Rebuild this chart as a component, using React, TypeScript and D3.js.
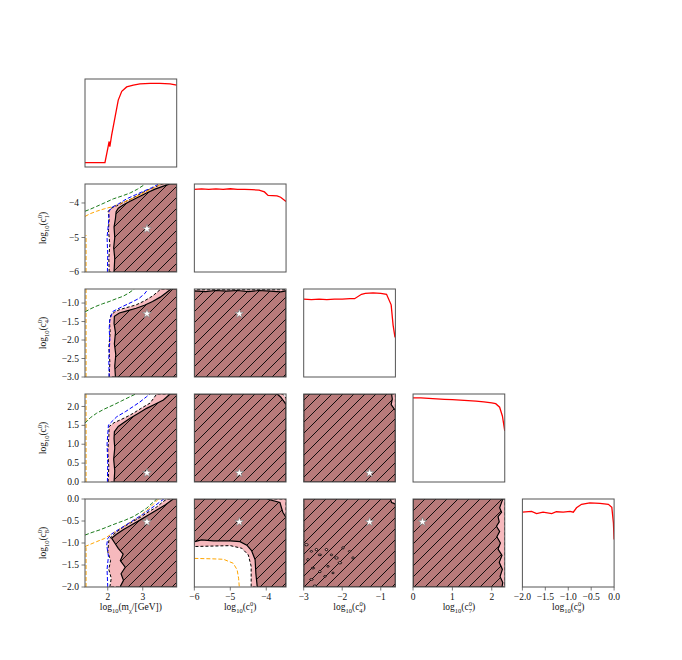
import React, { useEffect, useRef } from "react";
import * as d3 from "d3";

type Pt = [number, number];

// parameter axes (m, c1, c4, c7, c8)
const paramDomains: Pt[] = [[1.35, 3.97], [-6, -3.45], [-3, -0.62], [0, 2.33], [-2, 0]];
const xTickValues = [[2, 3], [-6, -5, -4], [-3, -2, -1], [0, 1, 2], [-2, -1.5, -1, -0.5, 0]];
const yTickValues = [[], [-6, -5, -4], [-3, -2.5, -2, -1.5, -1], [0, 0.5, 1, 1.5, 2], [-2, -1.5, -1, -0.5, 0]];
const tickDecimals = [0, 0, 0, 0, 1];
const yTickDecimals = [0, 0, 1, 1, 1];
const bestFit = [3.12, -4.75, -1.29, 0.24, -0.52];

// 1D profile likelihoods
const profM: Pt[] = [[1.35, 0.05], [1.64, 0.05], [1.92, 0.05], [2.0, 0.21], [2.04, 0.29], [2.06, 0.23], [2.11, 0.36], [2.21, 0.57], [2.3, 0.76], [2.4, 0.86], [2.54, 0.91], [2.73, 0.93], [2.92, 0.945], [3.21, 0.95], [3.49, 0.95], [3.78, 0.945], [3.97, 0.93]];
const profC1: Pt[] = [[-6, 0.94], [-5.8, 0.945], [-5.6, 0.938], [-5.4, 0.945], [-5.2, 0.94], [-5.0, 0.946], [-4.8, 0.94], [-4.6, 0.94], [-4.4, 0.935], [-4.2, 0.93], [-4.05, 0.91], [-3.95, 0.87], [-3.7, 0.865], [-3.6, 0.85], [-3.45, 0.8]];
const profC4: Pt[] = [[-3, 0.885], [-2.8, 0.88], [-2.6, 0.886], [-2.4, 0.88], [-2.2, 0.885], [-2.0, 0.885], [-1.8, 0.89], [-1.68, 0.89], [-1.5, 0.94], [-1.4, 0.95], [-1.2, 0.955], [-1.0, 0.95], [-0.85, 0.94], [-0.73, 0.82], [-0.68, 0.59], [-0.63, 0.45]];
const profC7: Pt[] = [[0, 0.955], [0.2, 0.955], [0.4, 0.95], [0.6, 0.945], [0.8, 0.94], [1.0, 0.935], [1.2, 0.93], [1.4, 0.925], [1.6, 0.92], [1.8, 0.91], [2.0, 0.9], [2.1, 0.89], [2.2, 0.85], [2.27, 0.75], [2.33, 0.58]];
const profC8: Pt[] = [[-2, 0.85], [-1.8, 0.86], [-1.69, 0.835], [-1.55, 0.85], [-1.36, 0.835], [-1.26, 0.855], [-1.11, 0.85], [-0.96, 0.86], [-0.89, 0.85], [-0.82, 0.9], [-0.71, 0.94], [-0.53, 0.955], [-0.31, 0.95], [-0.125, 0.94], [-0.05, 0.905], [-0.015, 0.73], [0, 0.54]];

// m vs c1
const mC1Inner: Pt[] = [[2.18, -6], [2.2, -5.6], [2.17, -5.3], [2.2, -5.0], [2.18, -4.7], [2.22, -4.45], [2.24, -4.25], [2.3, -4.15], [2.45, -4.05], [2.64, -3.95], [2.85, -3.84], [3.11, -3.71], [3.35, -3.6], [3.59, -3.51], [3.78, -3.45], [3.97, -3.45], [3.97, -6]];
const mC1Outer: Pt[] = [[2.04, -6], [2.03, -5.6], [2.06, -5.2], [2.02, -4.8], [2.04, -4.45], [2.01, -4.24], [2.1, -4.15], [2.26, -4.08], [2.45, -3.98], [2.64, -3.9], [2.88, -3.76], [3.11, -3.64], [3.35, -3.54], [3.55, -3.45], [3.97, -3.45], [3.97, -6]];
const mC1Blue: Pt[] = [[1.99, -6], [2.0, -5.5], [1.98, -5.0], [2.02, -4.6], [2.04, -4.24], [2.11, -4.13], [2.3, -4.03], [2.54, -3.88], [2.8, -3.76], [3.02, -3.66], [3.25, -3.56], [3.44, -3.46]];
const mC1Green: Pt[] = [[1.35, -4.24], [1.5, -4.18], [1.68, -4.1], [1.9, -4.0], [2.16, -3.88], [2.4, -3.8], [2.64, -3.71], [2.85, -3.6], [3.06, -3.46]];
const mC1Orange: Pt[] = [[1.35, -4.39], [1.5, -4.31], [1.68, -4.24], [1.9, -4.17], [2.16, -4.1], [2.4, -4.0], [2.64, -3.9], [3.0, -3.72], [3.4, -3.51], [3.6, -3.43]];
const mC1OrangeEdge: Pt[] = [[1.38, -6], [1.38, -4.93]];

// m vs c4
const mC4Inner: Pt[] = [[2.22, -3], [2.2, -2.7], [2.23, -2.4], [2.19, -2.1], [2.22, -1.8], [2.18, -1.55], [2.19, -1.36], [2.33, -1.27], [2.55, -1.21], [2.81, -1.14], [3.05, -1.06], [3.28, -0.96], [3.5, -0.84], [3.66, -0.73], [3.81, -0.62], [3.97, -0.62], [3.97, -3]];
const mC4Outer: Pt[] = [[2.04, -3], [2.06, -2.6], [2.03, -2.2], [2.07, -1.8], [2.05, -1.5], [2.09, -1.32], [2.2, -1.24], [2.33, -1.18], [2.55, -1.12], [2.81, -1.05], [3.05, -0.94], [3.28, -0.81], [3.52, -0.62], [3.97, -0.62], [3.97, -3]];
const mC4Blue: Pt[] = [[2.04, -3], [2.03, -2.5], [2.06, -2.0], [2.04, -1.7], [2.06, -1.45], [2.14, -1.23], [2.43, -1.09], [2.7, -0.97], [2.9, -0.87], [3.05, -0.75], [3.14, -0.64]];
const mC4Green: Pt[] = [[1.35, -1.24], [1.5, -1.16], [1.66, -1.09], [1.85, -1.02], [2.04, -0.96], [2.25, -0.88], [2.43, -0.82], [2.6, -0.73], [2.76, -0.62]];
const mC4OrangeEdge: Pt[] = [[1.38, -3], [1.38, -0.62]];

// m vs c7
const mC7Inner: Pt[] = [[2.18, 0], [2.2, 0.3], [2.17, 0.6], [2.2, 0.9], [2.18, 1.15], [2.19, 1.33], [2.3, 1.47], [2.45, 1.57], [2.64, 1.69], [2.88, 1.82], [3.11, 1.95], [3.35, 2.06], [3.59, 2.17], [3.78, 2.33], [3.97, 2.33], [3.97, 0]];
const mC7Outer: Pt[] = [[2.01, 0], [2.03, 0.4], [2.0, 0.8], [2.03, 1.2], [2.04, 1.47], [2.18, 1.57], [2.35, 1.64], [2.55, 1.73], [2.73, 1.82], [2.97, 1.96], [3.21, 2.09], [3.4, 2.33], [3.97, 2.33], [3.97, 0]];
const mC7Blue: Pt[] = [[1.99, 0], [2.0, 0.5], [1.98, 1.0], [2.02, 1.51], [2.26, 1.73], [2.5, 1.86], [2.73, 2.0], [2.92, 2.12], [3.11, 2.26], [3.2, 2.33]];
const mC7Green: Pt[] = [[1.35, 1.56], [1.5, 1.7], [1.68, 1.82], [1.9, 1.93], [2.16, 2.04], [2.4, 2.15], [2.64, 2.26], [2.8, 2.33]];
const mC7OrangeEdge: Pt[] = [[1.38, 0], [1.38, 2.33]];

// m vs c8
const mC8Inner: Pt[] = [[2.35, -2], [2.45, -1.85], [2.38, -1.7], [2.5, -1.55], [2.36, -1.4], [2.44, -1.25], [2.3, -1.12], [2.2, -1.0], [2.11, -0.89], [2.25, -0.8], [2.44, -0.7], [2.7, -0.58], [2.92, -0.48], [3.15, -0.37], [3.4, -0.25], [3.65, -0.13], [3.87, 0], [3.97, 0], [3.97, -2]];
const mC8Outer: Pt[] = [[2.06, -2], [2.1, -1.8], [2.03, -1.6], [2.08, -1.4], [2.0, -1.2], [2.03, -0.95], [2.1, -0.85], [2.25, -0.75], [2.44, -0.64], [2.7, -0.52], [2.92, -0.42], [3.15, -0.3], [3.4, -0.18], [3.6, -0.05], [3.7, 0], [3.97, 0], [3.97, -2]];
const mC8Blue: Pt[] = [[2.0, -2], [1.98, -1.6], [2.02, -1.3], [1.97, -1.05], [2.0, -0.9], [2.1, -0.8], [2.5, -0.6], [3.0, -0.35], [3.35, -0.15], [3.6, 0]];
const mC8Green: Pt[] = [[1.35, -0.82], [1.55, -0.76], [1.78, -0.7], [2.0, -0.63], [2.26, -0.55], [2.5, -0.48], [2.73, -0.4], [2.92, -0.31], [3.11, -0.21], [3.4, 0]];
const mC8Orange: Pt[] = [[1.35, -1.08], [1.5, -1.03], [1.68, -0.97], [1.9, -0.9], [2.06, -0.82], [2.3, -0.7], [2.6, -0.55], [2.9, -0.4], [3.2, -0.2], [3.45, 0]];
const mC8OrangeEdge: Pt[] = [[1.38, -2], [1.38, -1.1]];

// c1 vs c4
const c1C4Inner: Pt[] = [[-6, -3], [-6, -0.67], [-5.7, -0.69], [-5.4, -0.66], [-5.1, -0.68], [-4.8, -0.66], [-4.5, -0.69], [-4.2, -0.66], [-3.9, -0.68], [-3.6, -0.7], [-3.45, -0.67], [-3.45, -3]];
const c1C4Outer: Pt[] = [[-6, -3], [-6, -0.64], [-3.45, -0.64], [-3.45, -3]];

// c1 vs c7
const c1C7Inner: Pt[] = [[-6, 0], [-6, 2.33], [-3.7, 2.33], [-3.6, 2.25], [-3.5, 2.12], [-3.45, 2.05], [-3.45, 0]];
const c1C7Outer: Pt[] = [[-6, 0], [-6, 2.33], [-3.55, 2.33], [-3.45, 2.22], [-3.45, 0]];

// c4 vs c7
const c4C7Inner: Pt[] = [[-3, 0], [-3, 2.33], [-0.72, 2.33], [-0.7, 2.2], [-0.73, 2.05], [-0.66, 1.95], [-0.62, 1.9], [-0.62, 0]];
const c4C7Outer: Pt[] = [[-3, 0], [-3, 2.33], [-0.62, 2.33], [-0.62, 0]];

// c1 vs c8
const c1C8Inner: Pt[] = [[-6, 0], [-3.99, 0], [-3.62, -0.08], [-3.54, -0.3], [-3.45, -0.42], [-3.45, -2], [-4.25, -2], [-4.29, -1.69], [-4.31, -1.38], [-4.41, -1.17], [-4.54, -1.05], [-4.73, -0.97], [-5.0, -0.95], [-5.47, -0.95], [-5.8, -0.93], [-6, -0.97]];
const c1C8Outer: Pt[] = [[-6, 0], [-3.45, 0], [-3.45, -2], [-4.42, -2], [-4.42, -1.53], [-4.5, -1.27], [-4.68, -1.12], [-5.0, -1.06], [-6, -1.08]];
const c1C8Orange: Pt[] = [[-6, -1.35], [-5.5, -1.36], [-5.19, -1.37], [-4.92, -1.46], [-4.81, -1.61], [-4.77, -1.8], [-4.75, -2.0]];

// c4 vs c8
const c4C8Inner: Pt[] = [[-3, -2], [-3, 0], [-0.75, 0], [-0.72, -0.08], [-0.66, -0.1], [-0.62, -0.12], [-0.62, -2]];
const c4C8Outer: Pt[] = [[-3, -2], [-3, 0], [-0.62, 0], [-0.62, -2]];
const c4C8Islands: Pt[] = [[-2.93, -1.04], [-2.8, -1.19], [-2.67, -1.15], [-2.58, -1.27], [-2.41, -1.15], [-2.28, -1.27], [-2.15, -1.34], [-2.37, -1.53], [-2.58, -1.65], [-2.76, -1.57], [-2.89, -1.38], [-2.45, -1.76], [-2.06, -1.45], [-1.81, -1.19], [-1.72, -1.34], [-2.8, -1.83], [-1.98, -1.11], [-2.24, -1.68], [-2.71, -1.98]];

// c7 vs c8
const c7C8Inner: Pt[] = [[0, 0], [2.28, 0], [2.24, -0.1], [2.2, -0.2], [2.25, -0.3], [2.16, -0.4], [2.19, -0.52], [2.12, -0.62], [2.2, -0.74], [2.13, -0.86], [2.22, -1.0], [2.16, -1.14], [2.26, -1.28], [2.19, -1.44], [2.27, -1.6], [2.21, -1.76], [2.28, -1.9], [2.26, -2], [0, -2]];
const c7C8Outer: Pt[] = [[0, 0], [2.33, 0], [2.33, -2], [0, -2]];

const profiles = [profM, profC1, profC4, profC7, profC8];

const GREEN = "#1a7a1a";
const BLUE = "#0000ff";
const ORANGE = "#ffa500";

const panels2d = [
  { col: 0, row: 1, inner: mC1Inner, outer: mC1Outer, lines: [[mC1OrangeEdge, ORANGE], [mC1Orange, ORANGE], [mC1Green, GREEN], [mC1Blue, BLUE]] },
  { col: 0, row: 2, inner: mC4Inner, outer: mC4Outer, lines: [[mC4OrangeEdge, ORANGE], [mC4Green, GREEN], [mC4Blue, BLUE]] },
  { col: 0, row: 3, inner: mC7Inner, outer: mC7Outer, lines: [[mC7OrangeEdge, ORANGE], [mC7Green, GREEN], [mC7Blue, BLUE]] },
  { col: 0, row: 4, inner: mC8Inner, outer: mC8Outer, lines: [[mC8OrangeEdge, ORANGE], [mC8Orange, ORANGE], [mC8Green, GREEN], [mC8Blue, BLUE]] },
  { col: 1, row: 2, inner: c1C4Inner, outer: c1C4Outer, lines: [] },
  { col: 1, row: 3, inner: c1C7Inner, outer: c1C7Outer, lines: [] },
  { col: 1, row: 4, inner: c1C8Inner, outer: c1C8Outer, lines: [[c1C8Orange, ORANGE]] },
  { col: 2, row: 3, inner: c4C7Inner, outer: c4C7Outer, lines: [] },
  { col: 2, row: 4, inner: c4C8Inner, outer: c4C8Outer, lines: [], islands: c4C8Islands },
  { col: 3, row: 4, inner: c7C8Inner, outer: c7C8Outer, lines: [] },
];

// label pieces: [text, kind]
const labelParts: [string, string][][] = [
  [["log", "n"], ["10", "sub"], ["(m", "n"], ["χ", "sub"], ["/[GeV])", "n"]],
  [["log", "n"], ["10", "sub"], ["(c", "n"], ["0", "sup"], ["1", "subAfterSup"], [")", "n"]],
  [["log", "n"], ["10", "sub"], ["(c", "n"], ["0", "sup"], ["4", "subAfterSup"], [")", "n"]],
  [["log", "n"], ["10", "sub"], ["(c", "n"], ["0", "sup"], ["7", "subAfterSup"], [")", "n"]],
  [["log", "n"], ["10", "sub"], ["(c", "n"], ["0", "sup"], ["8", "subAfterSup"], [")", "n"]],
];

const LEFT0 = 85;
const COL_STEP = 109.35;
const CELL_W = 91.7;
const TOP0 = 79;
const ROW_STEP = 105;
const CELL_H = 88;
const FONT = "'Liberation Serif', 'DejaVu Serif', serif";
const SPINE = "#555";
const BROWN = "#b97b7b";
const PINK = "#f6b9bd";

const App = () => {
  const ref = useRef<SVGSVGElement>(null);

  useEffect(() => {
    const svg = d3.select(ref.current);
    svg.selectAll("*").remove();

    const defs = svg.append("defs");
    const hatch = defs
      .append("pattern")
      .attr("id", "hatch")
      .attr("patternUnits", "userSpaceOnUse")
      .attr("width", 11)
      .attr("height", 11);
    hatch
      .append("path")
      .attr("d", "M-1,1 l2,-2 M0,11 l11,-11 M10,12 l2,-2")
      .attr("stroke", "#000")
      .attr("stroke-width", 0.9);

    const xScale = (i: number) =>
      d3.scaleLinear().domain(paramDomains[i]).range([LEFT0 + i * COL_STEP, LEFT0 + i * COL_STEP + CELL_W]);
    const yScale = (j: number) =>
      d3.scaleLinear().domain(paramDomains[j]).range([TOP0 + j * ROW_STEP + CELL_H, TOP0 + j * ROW_STEP]);

    const addClip = (id: string, col: number, row: number) => {
      defs
        .append("clipPath")
        .attr("id", id)
        .append("rect")
        .attr("x", LEFT0 + col * COL_STEP)
        .attr("y", TOP0 + row * ROW_STEP)
        .attr("width", CELL_W)
        .attr("height", CELL_H);
    };

    const frame = (col: number, row: number) => {
      svg
        .append("rect")
        .attr("x", LEFT0 + col * COL_STEP)
        .attr("y", TOP0 + row * ROW_STEP)
        .attr("width", CELL_W)
        .attr("height", CELL_H)
        .attr("fill", "none")
        .attr("stroke", SPINE)
        .attr("stroke-width", 1);
    };

    // 1D panels
    profiles.forEach((prof, i) => {
      const x = xScale(i);
      const y = d3.scaleLinear().domain([0, 1]).range([TOP0 + i * ROW_STEP + CELL_H, TOP0 + i * ROW_STEP]);
      addClip(`clip1d${i}`, i, i);
      svg
        .append("path")
        .datum(prof)
        .attr("clip-path", `url(#clip1d${i})`)
        .attr("fill", "none")
        .attr("stroke", "#ff0000")
        .attr("stroke-width", 1.3)
        .attr("d", d3.line<Pt>().x(d => x(d[0])).y(d => y(d[1])));
      frame(i, i);
    });

    // 2D panels
    panels2d.forEach((p, k) => {
      const x = xScale(p.col);
      const y = yScale(p.row);
      const id = `clip2d${k}`;
      addClip(id, p.col, p.row);
      const g = svg.append("g").attr("clip-path", `url(#${id})`);
      const poly = d3.line<Pt>().x(d => x(d[0])).y(d => y(d[1])).curve(d3.curveLinearClosed);
      const open = d3.line<Pt>().x(d => x(d[0])).y(d => y(d[1]));

      g.append("path").datum(p.outer).attr("d", poly).attr("fill", PINK)
        .attr("stroke", "#000").attr("stroke-width", 1).attr("stroke-dasharray", "3,2");
      g.append("path").datum(p.inner).attr("d", poly).attr("fill", BROWN)
        .attr("stroke", "#000").attr("stroke-width", 1.2);
      g.append("path").datum(p.inner).attr("d", poly).attr("fill", "url(#hatch)");

      if (p.islands) {
        g.selectAll("ellipse.island")
          .data(p.islands)
          .enter()
          .append("ellipse")
          .attr("cx", d => x(d[0]))
          .attr("cy", d => y(d[1]))
          .attr("rx", (d, i) => (i % 3 === 0 ? 1.8 : 1.2))
          .attr("ry", (d, i) => (i % 2 === 0 ? 1.1 : 0.8))
          .attr("fill", PINK)
          .attr("stroke", "#000")
          .attr("stroke-width", 0.9);
      }

      p.lines.forEach(([pts, color]) => {
        g.append("path").datum(pts as Pt[]).attr("d", open).attr("fill", "none")
          .attr("stroke", color as string).attr("stroke-width", 1).attr("stroke-dasharray", "4,2");
      });

      g.append("path")
        .attr("d", d3.symbol(d3.symbolStar, 26)())
        .attr("transform", `translate(${x(bestFit[p.col])},${y(bestFit[p.row])})`)
        .attr("fill", "#fff")
        .attr("stroke", "#777")
        .attr("stroke-width", 0.6);

      frame(p.col, p.row);
    });

    // label helper
    const writeLabel = (text: d3.Selection<SVGTextElement, unknown, null, undefined>, parts: [string, string][]) => {
      let shift = 0;
      parts.forEach(([t, kind]) => {
        if (kind === "n") {
          text.append("tspan").attr("font-size", 9.5).attr("dy", -shift).text(t);
          shift = 0;
        } else if (kind === "sub") {
          text.append("tspan").attr("font-size", 6.5).attr("dy", 2.5 - shift).text(t);
          shift = 2.5;
        } else if (kind === "sup") {
          text.append("tspan").attr("font-size", 6.5).attr("dy", -4 - shift).text(t);
          shift = -4;
        } else {
          text.append("tspan").attr("font-size", 6.5).attr("dx", -3.3).attr("dy", 6.5).text(t);
          shift = 2.5;
        }
      });
    };

    // x axes on bottom row
    for (let i = 0; i < 5; i++) {
      const x = xScale(i);
      const bottom = TOP0 + 4 * ROW_STEP + CELL_H;
      const ax = svg.append("g");
      xTickValues[i].forEach(v => {
        ax.append("line").attr("x1", x(v)).attr("x2", x(v)).attr("y1", bottom).attr("y2", bottom + 3.5)
          .attr("stroke", SPINE).attr("stroke-width", 0.8);
        ax.append("text").attr("x", x(v)).attr("y", bottom + 13).attr("text-anchor", "middle")
          .attr("font-family", FONT).attr("font-size", 9.5).attr("fill", "#111")
          .text(d3.format(`.${tickDecimals[i]}f`)(v).replace("-", "−"));
      });
      const label = svg.append("text")
        .attr("x", LEFT0 + i * COL_STEP + CELL_W / 2)
        .attr("y", bottom + 23)
        .attr("text-anchor", "middle")
        .attr("font-family", FONT)
        .attr("fill", "#111");
      writeLabel(label, labelParts[i]);
    }

    // y axes on left column
    for (let j = 1; j < 5; j++) {
      const y = yScale(j);
      const left = LEFT0;
      const ax = svg.append("g");
      yTickValues[j].forEach(v => {
        ax.append("line").attr("x1", left - 3.5).attr("x2", left).attr("y1", y(v)).attr("y2", y(v))
          .attr("stroke", SPINE).attr("stroke-width", 0.8);
        ax.append("text").attr("x", left - 6).attr("y", y(v)).attr("dy", "0.33em").attr("text-anchor", "end")
          .attr("font-family", FONT).attr("font-size", 9.5).attr("fill", "#111")
          .text(d3.format(`.${yTickDecimals[j]}f`)(v).replace("-", "−"));
      });
      const cy = TOP0 + j * ROW_STEP + CELL_H / 2;
      const label = svg.append("text")
        .attr("transform", `translate(46,${cy}) rotate(-90)`)
        .attr("text-anchor", "middle")
        .attr("font-family", FONT)
        .attr("fill", "#111");
      writeLabel(label, labelParts[j]);
    }
  }, []);

  return (
    <svg
      ref={ref}
      width={682}
      height={660}
      style={{ position: "absolute", left: 0, top: 0, background: "#fff" }}
    />
  );
};

export default App;
